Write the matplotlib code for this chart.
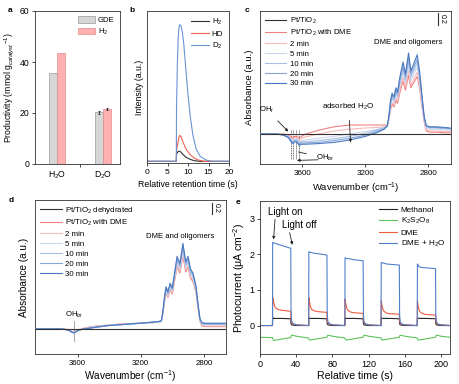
import numpy as np
import matplotlib
matplotlib.use("Agg")
import matplotlib.pyplot as plt

plt.rcParams['font.family'] = ['Liberation Sans', 'DejaVu Sans']
plt.rcParams['font.size'] = 5.5
plt.rcParams['axes.linewidth'] = 0.6
plt.rcParams['axes.edgecolor'] = '#333333'
plt.rcParams['xtick.major.size'] = 2
plt.rcParams['ytick.major.size'] = 2
plt.rcParams['xtick.major.width'] = 0.5
plt.rcParams['ytick.major.width'] = 0.5
plt.rcParams['xtick.major.pad'] = 2
plt.rcParams['ytick.major.pad'] = 2
plt.rcParams['mathtext.fontset'] = 'custom'
plt.rcParams['mathtext.rm'] = 'Liberation Sans'
plt.rcParams['mathtext.it'] = 'Liberation Sans:italic'

# ---- panel a: productivity
solvents = ['H$_2$O', 'D$_2$O']
gde = [35.7, 20.2]
h2 = [43.5, 21.6]
gde_err = [0.0, 0.4]
h2_err = [0.0, 0.3]

# ---- panel b: GC traces
t_h2 = [0, 7.15, 7.2, 7.5, 7.8, 8.2, 8.8, 9.5, 10.5, 11.5, 13, 20]
y_h2 = [0, 0, 0.05, 0.07, 0.075, 0.07, 0.05, 0.03, 0.015, 0.005, 0, 0]
t_hd = [0, 7.15, 7.2, 7.5, 7.8, 8.0, 8.3, 8.8, 9.5, 10.5, 11.5, 12.5, 14, 20]
y_hd = [0, 0, 0.08, 0.13, 0.18, 0.19, 0.18, 0.14, 0.09, 0.05, 0.025, 0.01, 0, 0]
t_d2 = [0, 7.15, 7.2, 7.4, 7.6, 7.8, 8.0, 8.3, 8.6, 9.0, 9.4, 9.9, 10.5, 11.2, 12.0, 13.0, 14.6, 16, 20]
y_d2 = [0, 0, 0.4, 0.7, 0.9, 0.98, 1.0, 0.99, 0.95, 0.85, 0.7, 0.52, 0.34, 0.19, 0.09, 0.035, 0.008, 0, 0]

# ---- panel c: DRIFTS, hydrated
c_labels = ['Pt/TiO$_2$', 'Pt/TiO$_2$ with DME', '2 min', '5 min', '10 min', '20 min', '30 min']
spec_colors = ['#333333', '#f08080', '#f7b9b9', '#c9d7ee', '#a8bfe3', '#85a5d8', '#4a78c0']
c_wn_low = [3870, 3760, 3720, 3690, 3670, 3660, 3650, 3635, 3620, 3605, 3580, 3500, 3400, 3300, 3200, 3120, 3080]
c_wn_high = [3060, 3050, 3040, 3030, 3018, 3005, 2995, 2980, 2960, 2945, 2925, 2910, 2895, 2870, 2855,
             2840, 2825, 2812, 2790, 2750, 2700, 2660]
c_low = [
    [0] * 17,
    [0, 0, 0, -0.02, -0.05, -0.06, -0.04, -0.04, -0.07, -0.04, 0.0, 0.06, 0.12, 0.15, 0.15, 0.15, 0.15],
    [0, 0, -0.01, -0.03, -0.07, -0.08, -0.06, -0.06, -0.10, -0.07, -0.05, 0.0, 0.05, 0.08, 0.10, 0.11, 0.12],
    [0, 0, -0.01, -0.04, -0.09, -0.10, -0.08, -0.09, -0.13, -0.11, -0.10, -0.07, -0.04, 0.0, 0.04, 0.08, 0.11],
    [0, 0, -0.01, -0.05, -0.11, -0.12, -0.10, -0.11, -0.15, -0.13, -0.13, -0.11, -0.08, -0.04, 0.01, 0.07, 0.10],
    [0, 0, -0.02, -0.05, -0.12, -0.14, -0.11, -0.12, -0.17, -0.15, -0.15, -0.14, -0.11, -0.07, -0.02, 0.05, 0.09],
    [0, 0, -0.02, -0.06, -0.14, -0.16, -0.13, -0.14, -0.19, -0.17, -0.17, -0.16, -0.14, -0.10, -0.04, 0.03, 0.08],
]
c_high = [
    [0] * 22,
    [0.15, 0.24, 0.40, 0.50, 0.45, 0.56, 0.51, 0.69, 0.88, 0.73, 0.98, 0.77, 0.84, 0.96, 0.77, 0.47, 0.20, 0.05, 0.03, 0.03, 0.02, 0.02],
    [0.14, 0.25, 0.43, 0.53, 0.48, 0.60, 0.55, 0.74, 0.94, 0.78, 1.05, 0.82, 0.90, 1.03, 0.82, 0.51, 0.22, 0.07, 0.05, 0.05, 0.04, 0.04],
    [0.13, 0.26, 0.47, 0.58, 0.53, 0.65, 0.60, 0.81, 1.02, 0.85, 1.15, 0.89, 0.98, 1.12, 0.89, 0.55, 0.24, 0.10, 0.08, 0.08, 0.07, 0.06],
    [0.13, 0.27, 0.50, 0.61, 0.56, 0.69, 0.63, 0.86, 1.08, 0.90, 1.22, 0.95, 1.04, 1.19, 0.95, 0.59, 0.25, 0.12, 0.10, 0.10, 0.09, 0.08],
    [0.13, 0.29, 0.52, 0.65, 0.59, 0.73, 0.67, 0.90, 1.14, 0.95, 1.28, 1.00, 1.09, 1.25, 1.00, 0.62, 0.27, 0.13, 0.11, 0.11, 0.10, 0.09],
    [0.14, 0.30, 0.55, 0.68, 0.62, 0.77, 0.70, 0.95, 1.20, 1.00, 1.35, 1.05, 1.15, 1.32, 1.05, 0.65, 0.28, 0.14, 0.12, 0.12, 0.11, 0.10],
]

# ---- panel d: DRIFTS, dehydrated
d_labels = ['Pt/TiO$_2$ dehydrated', 'Pt/TiO$_2$ with DME', '2 min', '5 min', '10 min', '20 min', '30 min']
d_wn_low = [3870, 3700, 3660, 3640, 3625, 3610, 3590, 3560, 3530, 3480, 3400, 3300, 3200, 3120, 3085]
d_wn_high = [3070, 3060, 3050, 3040, 3028, 3014, 3000, 2985, 2970, 2952, 2933, 2915, 2900, 2885, 2869,
             2850, 2838, 2825, 2812, 2790, 2750, 2700, 2660]
d_low = [
    [0] * 15,
    [0, 0, -0.01, -0.04, -0.06, -0.04, -0.01, 0.01, 0.03, 0.05, 0.07, 0.09, 0.10, 0.11, 0.12],
    [0, 0, -0.01, -0.04, -0.06, -0.04, -0.02, 0.01, 0.02, 0.04, 0.07, 0.09, 0.10, 0.11, 0.12],
    [0, 0, -0.02, -0.04, -0.06, -0.05, -0.02, 0.00, 0.02, 0.04, 0.07, 0.08, 0.10, 0.11, 0.12],
    [0, 0, -0.02, -0.05, -0.07, -0.05, -0.02, 0.00, 0.02, 0.04, 0.06, 0.08, 0.10, 0.12, 0.13],
    [0, 0, -0.02, -0.05, -0.07, -0.05, -0.02, 0.00, 0.01, 0.03, 0.06, 0.08, 0.10, 0.12, 0.13],
    [0, 0, -0.02, -0.05, -0.07, -0.05, -0.02, 0.00, 0.01, 0.03, 0.06, 0.08, 0.10, 0.12, 0.13],
]
d_high = [
    [0] * 23,
    [0.13, 0.26, 0.47, 0.63, 0.55, 0.68, 0.61, 0.85, 1.08, 0.98, 1.28, 1.00, 1.08, 0.89, 0.83, 0.64, 0.38, 0.13, 0.05, 0.04, 0.04, 0.04, 0.04],
    [0.13, 0.26, 0.48, 0.65, 0.57, 0.70, 0.63, 0.88, 1.12, 1.01, 1.32, 1.04, 1.12, 0.92, 0.86, 0.66, 0.40, 0.14, 0.06, 0.05, 0.05, 0.05, 0.05],
    [0.13, 0.27, 0.50, 0.67, 0.59, 0.73, 0.66, 0.91, 1.16, 1.05, 1.37, 1.07, 1.16, 0.96, 0.89, 0.68, 0.41, 0.15, 0.08, 0.07, 0.07, 0.07, 0.07],
    [0.14, 0.28, 0.52, 0.70, 0.61, 0.75, 0.68, 0.94, 1.19, 1.08, 1.41, 1.11, 1.19, 0.99, 0.92, 0.71, 0.42, 0.16, 0.09, 0.08, 0.08, 0.08, 0.08],
    [0.14, 0.29, 0.53, 0.72, 0.63, 0.78, 0.70, 0.97, 1.23, 1.12, 1.46, 1.14, 1.23, 1.02, 0.95, 0.73, 0.44, 0.17, 0.10, 0.09, 0.09, 0.09, 0.09],
    [0.14, 0.30, 0.55, 0.74, 0.65, 0.80, 0.72, 1.00, 1.27, 1.15, 1.50, 1.18, 1.27, 1.05, 0.98, 0.75, 0.45, 0.18, 0.11, 0.10, 0.10, 0.10, 0.10],
]

# ---- panel e: photocurrent
light_on = [14, 54, 94, 134, 174]
cycle_offsets = [-0.2, 0, 0.5, 1.5, 3, 6, 10, 20, 20.3, 21, 23, 26]
e_labels = ['Methanol', 'K$_2$S$_2$O$_8$', 'DME', 'DME + H$_2$O']
e_colors = ['#222222', '#5cc45c', '#f05a3c', '#4f80cc']
methanol = [0.0,
            0.0, 0.22, 0.21, 0.20, 0.20, 0.20, 0.20, 0.19, 0.05, 0.02, 0.01, 0.0,
            0.0, 0.21, 0.21, 0.20, 0.20, 0.20, 0.20, 0.19, 0.05, 0.02, 0.01, 0.0,
            0.0, 0.21, 0.21, 0.20, 0.20, 0.20, 0.20, 0.19, 0.05, 0.02, 0.01, 0.0,
            0.0, 0.21, 0.21, 0.20, 0.20, 0.20, 0.20, 0.19, 0.05, 0.02, 0.01, 0.0,
            0.0, 0.21, 0.21, 0.20, 0.20, 0.20, 0.20, 0.19, 0.05, 0.02, 0.01, 0.0,
            0.0]
k2s2o8 = [-0.33,
          -0.34, -0.36, -0.40, -0.42, -0.41, -0.40, -0.38, -0.34, -0.30, -0.27, -0.28, -0.30,
          -0.35, -0.37, -0.40, -0.41, -0.40, -0.39, -0.37, -0.33, -0.30, -0.27, -0.28, -0.30,
          -0.35, -0.37, -0.40, -0.41, -0.40, -0.39, -0.37, -0.33, -0.30, -0.27, -0.28, -0.30,
          -0.35, -0.37, -0.40, -0.41, -0.40, -0.39, -0.37, -0.33, -0.30, -0.27, -0.28, -0.30,
          -0.35, -0.37, -0.40, -0.41, -0.40, -0.39, -0.37, -0.33, -0.30, -0.27, -0.28, -0.30,
          -0.33]
dme = [0.0,
       0.0, 0.80, 0.74, 0.60, 0.50, 0.45, 0.43, 0.40, 0.15, 0.08, 0.04, 0.02,
       0.0, 0.78, 0.70, 0.55, 0.46, 0.41, 0.39, 0.37, 0.14, 0.07, 0.04, 0.02,
       0.0, 0.74, 0.66, 0.52, 0.43, 0.38, 0.36, 0.34, 0.13, 0.07, 0.04, 0.02,
       0.0, 0.70, 0.62, 0.48, 0.40, 0.35, 0.33, 0.32, 0.12, 0.06, 0.03, 0.02,
       0.0, 0.70, 0.60, 0.46, 0.38, 0.33, 0.31, 0.29, 0.12, 0.06, 0.03, 0.02,
       0.0]
dme_h2o = [0.0,
           0.0, 2.33, 2.33, 2.32, 2.31, 2.28, 2.25, 2.17, 0.40, 0.12, 0.05, 0.02,
           0.0, 2.07, 2.07, 2.06, 2.05, 2.03, 2.02, 1.98, 0.35, 0.11, 0.05, 0.02,
           0.0, 1.90, 1.90, 1.89, 1.88, 1.87, 1.85, 1.82, 0.33, 0.10, 0.04, 0.02,
           0.0, 1.77, 1.77, 1.76, 1.75, 1.73, 1.72, 1.70, 0.30, 0.10, 0.04, 0.02,
           0.0, 1.73, 1.72, 1.66, 1.64, 1.63, 1.62, 1.60, 0.30, 0.10, 0.04, 0.02,
           0.0]

fig = plt.figure(figsize=(4.59, 3.84), dpi=100)
W, H = 459.0, 384.0


def add_ax(l, t, r, b):
    return fig.add_axes([l / W, 1 - b / H, (r - l) / W, (b - t) / H])


ax_a = add_ax(35, 11, 120, 164)
ax_b = add_ax(147, 11, 229, 163)
ax_c = add_ax(260, 11, 451, 164)
ax_d = add_ax(35, 200, 226, 354)
ax_e = add_ax(260, 201, 450, 354)

arrow = dict(arrowstyle='-|>', color='#222222', lw=0.6, mutation_scale=4, shrinkA=0, shrinkB=0)

# panel a
xa = np.arange(len(solvents))
bw = 0.18
ax_a.bar(xa - bw / 2, gde, bw, color='#d6d6d6', edgecolor='#9a9a9a', linewidth=0.5, label='GDE')
ax_a.bar(xa + bw / 2, h2, bw, color='#ffb0b0', edgecolor='#e08a8a', linewidth=0.5, label='H$_2$')
ax_a.errorbar(xa[1:] - bw / 2, gde[1:], yerr=gde_err[1:], fmt='none', ecolor='#222222',
              elinewidth=0.6, capsize=1, capthick=0.6)
ax_a.errorbar(xa[1:] + bw / 2, h2[1:], yerr=h2_err[1:], fmt='none', ecolor='#222222',
              elinewidth=0.6, capsize=1, capthick=0.6)
ax_a.set_xlim(-0.48, 1.37)
ax_a.set_ylim(0, 60)
ax_a.set_yticks([0, 20, 40, 60])
ax_a.set_xticks(xa)
ax_a.set_xticklabels(solvents)
ax_a.tick_params(axis='x', length=0, pad=4)
ax_a.set_xticks([0.5], minor=True)
ax_a.tick_params(axis='x', which='minor', length=2, width=0.5)
ax_a.tick_params(labelsize=6.2)
ax_a.set_ylabel('Productivity (mmol g$_{catalyst}$$^{-1}$)', labelpad=3, fontsize=6.2)
ax_a.legend(loc='upper right', fontsize=5.6, frameon=False, handlelength=2.2, handleheight=0.9,
            borderaxespad=0.3, labelspacing=0.3, handletextpad=0.3)

# panel b
ax_b.plot(t_h2, y_h2, color='#333333', lw=0.8, label='H$_2$')
ax_b.plot(t_hd, y_hd, color='#f06050', lw=0.8, label='HD')
ax_b.plot(t_d2, y_d2, color='#6a94d4', lw=0.8, label='D$_2$')
ax_b.set_xlim(0, 20)
ax_b.set_ylim(-0.012, 1.1)
ax_b.set_xticks([0, 5, 10, 15, 20])
ax_b.set_yticks([])
ax_b.tick_params(labelsize=6)
ax_b.set_xlabel('Relative retention time (s)', labelpad=3, fontsize=6.3)
ax_b.set_ylabel('Intensity (a.u.)', labelpad=2, fontsize=6.3)
ax_b.legend(loc='upper right', fontsize=5.8, frameon=False, handlelength=2.2,
            borderaxespad=0.3, labelspacing=0.4, handletextpad=0.4)

# panel c
c_wn = c_wn_low + c_wn_high
for i in range(len(c_labels)):
    ax_c.plot(c_wn, c_low[i] + c_high[i], color=spec_colors[i], lw=0.8,
              label=c_labels[i], zorder=5 if i == 0 else 3)
ax_c.set_xlim(3870, 2655)
ax_c.set_ylim(-0.5, 2.05)
ax_c.set_xticks([3600, 3200, 2800])
ax_c.set_yticks([])
ax_c.tick_params(labelsize=5.8)
ax_c.set_xlabel('Wavenumber (cm$^{-1}$)', labelpad=3, fontsize=6.8)
ax_c.set_ylabel('Absorbance (a.u.)', labelpad=4, fontsize=6.8)
ax_c.legend(loc='upper left', fontsize=5.6, frameon=False, handlelength=2.8,
            borderaxespad=0.2, labelspacing=0.3, handletextpad=0.4)
ax_c.text(2925, 1.52, 'DME and oligomers', ha='center', va='center', fontsize=5.6)
ax_c.plot([2737, 2737], [1.82, 2.02], color='#333333', lw=0.8)
ax_c.text(2712, 1.92, '0.2', rotation=-90, ha='center', va='center', fontsize=5)
ax_c.annotate('adsorbed H$_2$O', xy=(3294, -0.14), xytext=(3306, 0.45), ha='center', va='center',
              fontsize=5.8, arrowprops=dict(arrow, shrinkA=4))
ax_c.annotate('OH$_t$', xy=(3690, 0.04), xytext=(3825, 0.4), ha='center', va='center',
              fontsize=5.6, arrowprops=dict(arrow, shrinkA=3))
for wn in [3675, 3662, 3644, 3619]:
    ax_c.plot([wn, wn], [0.06, -0.42], color='#333333', lw=0.5, ls=(0, (1.5, 1)))
ax_c.annotate('OH$_{br}$', xy=(3625, -0.3), xytext=(3455, -0.4), ha='center', va='center',
              fontsize=5.6, arrowprops=dict(arrowstyle='-', color='#222222', lw=0.6,
                                            shrinkA=5, shrinkB=0))
ax_c.annotate('', xy=(3635, -0.44), xytext=(3500, -0.43), arrowprops=arrow)

# panel d
d_wn = d_wn_low + d_wn_high
for i in range(len(d_labels)):
    ax_d.plot(d_wn, d_low[i] + d_high[i], color=spec_colors[i], lw=0.8,
              label=d_labels[i], zorder=5 if i == 0 else 3)
ax_d.set_xlim(3870, 2660)
ax_d.set_ylim(-0.44, 2.26)
ax_d.set_xticks([3600, 3200, 2800])
ax_d.set_yticks([])
ax_d.tick_params(labelsize=5.6)
ax_d.set_xlabel('Wavenumber (cm$^{-1}$)', labelpad=1.5, fontsize=7.2)
ax_d.set_ylabel('Absorbance (a.u.)', labelpad=4, fontsize=7.2)
ax_d.legend(loc='upper left', fontsize=5.7, frameon=False, handlelength=2.8,
            borderaxespad=0.2, labelspacing=0.3, handletextpad=0.4)
ax_d.text(2951, 1.62, 'DME and oligomers', ha='center', va='center', fontsize=5.6)
ax_d.plot([2750, 2750], [2.02, 2.21], color='#333333', lw=0.8)
ax_d.text(2722, 2.115, '0.2', rotation=-90, ha='center', va='center', fontsize=5)
ax_d.plot([3620, 3620], [0.13, -0.23], color='#333333', lw=0.5, ls=(0, (1.5, 1)))
ax_d.text(3620, 0.24, 'OH$_{br}$', ha='center', va='center', fontsize=5.6)

# panel e
t_e = [0] + [on + off for on in light_on for off in cycle_offsets] + [210]
for vals, col, lab in zip([methanol, k2s2o8, dme, dme_h2o], e_colors, e_labels):
    ax_e.plot(t_e, vals, color=col, lw=0.8, label=lab)
ax_e.set_xlim(0, 210)
ax_e.set_ylim(-0.8, 3.5)
ax_e.set_xticks([0, 40, 80, 120, 160, 200])
ax_e.set_yticks([0, 1, 2, 3])
ax_e.tick_params(labelsize=6.5)
ax_e.set_xlabel('Relative time (s)', labelpad=1.5, fontsize=7.6)
ax_e.set_ylabel('Photocurrent (\u03bcA cm$^{-2}$)', labelpad=2, fontsize=7.6)
ax_e.legend(loc='upper right', fontsize=5.9, frameon=False, handlelength=2.2,
            borderaxespad=0.2, labelspacing=0.3, handletextpad=0.4)
ax_e.annotate('Light on', xy=(15, 2.42), xytext=(27.5, 3.2), ha='center', va='center', fontsize=7,
              arrowprops=dict(arrow, relpos=(0.22, 0.0)))
ax_e.annotate('Light off', xy=(35.8, 2.27), xytext=(43.5, 2.83), ha='center', va='center', fontsize=7,
              arrowprops=dict(arrow, relpos=(0.2, 0.0)))

# panel letters
for lab, x, y in [('a', 10, 10), ('b', 132, 10), ('c', 247, 10), ('d', 11, 200), ('e', 238, 202)]:
    fig.text(x / W, 1 - y / H, lab, fontsize=6, fontweight='bold', ha='center', va='center')

fig.savefig('out.png', dpi=100)
